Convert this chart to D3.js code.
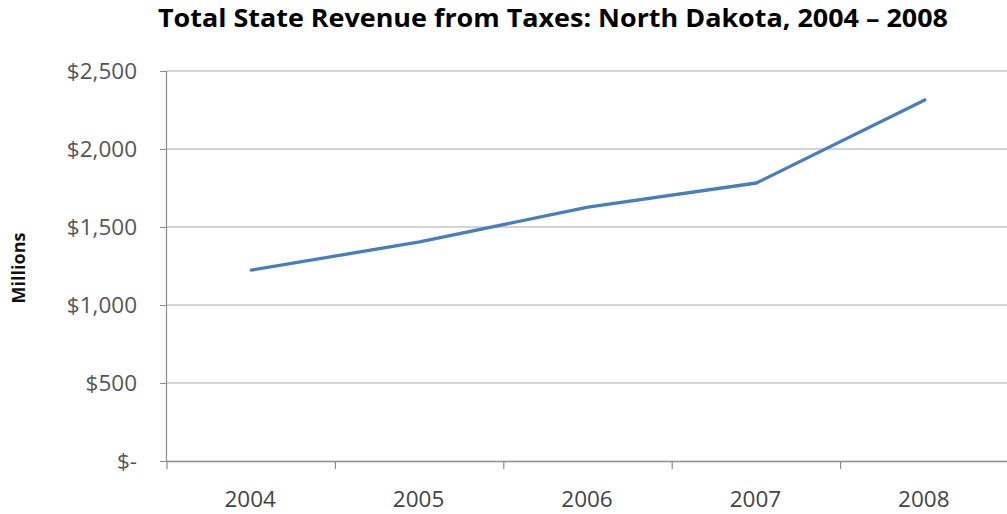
<!DOCTYPE html>
<html><head><meta charset="utf-8">
<script src="https://cdn.jsdelivr.net/npm/d3@7"></script>
<style>html,body{margin:0;padding:0;background:#fff;}svg{display:block;}</style>
</head><body>
<svg id="chart" width="1007" height="514"></svg>
<script>
const years = ["2004", "2005", "2006", "2007", "2008"];
const revenue = [1224, 1404, 1628, 1782, 2314];
const yTicks = [0, 500, 1000, 1500, 2000, 2500];
const yTickLabels = ["$-", "$500", "$1,000", "$1,500", "$2,000", "$2,500"];
const titleText = "Total State Revenue from Taxes: North Dakota, 2004 \u2013 2008";
const yTitle = "Millions";

(function () {
const svg = d3.select("#chart");
const mLeft = 166, mRight = 1008, mTop = 71, mBottom = 461;
const x = d3.scaleBand().domain(years).range([mLeft, mRight]);
const y = d3.scaleLinear().domain([0, 2500]).range([mBottom, mTop]);
const font = "'Open Sans', 'Lato', sans-serif";

// gridlines
svg.append("g").selectAll("line").data(yTicks.filter(d => d > 0)).join("line")
  .attr("x1", mLeft).attr("x2", 1007)
  .attr("y1", d => y(d)).attr("y2", d => y(d))
  .attr("stroke", "#c6c6c6").attr("stroke-width", 1.5);

// y axis
const yAxis = d3.axisLeft(y).tickValues(yTicks)
  .tickFormat((d, i) => yTickLabels[i]).tickSize(6).tickPadding(23);
const gy = svg.append("g").attr("transform", `translate(${mLeft},0)`).call(yAxis);
gy.select(".domain").attr("stroke", "#8c8c8c").attr("stroke-width", 1.2);
gy.selectAll(".tick line").attr("stroke", "#8c8c8c");
gy.selectAll(".tick text").attr("font-family", font).attr("font-size", 22.5).attr("fill", "#555");

// x axis
const xAxis = d3.axisBottom(x).tickSize(0).tickPadding(30);
const gx = svg.append("g").attr("transform", `translate(0,${mBottom})`).call(xAxis);
gx.select(".domain").attr("stroke", "#8c8c8c").attr("stroke-width", 1.5);
gx.selectAll(".tick text").attr("font-family", font).attr("font-size", 22.5).attr("fill", "#444");
// category boundary tick marks
const bounds = years.map(d => x(d)).concat([x(years[years.length-1]) + x.bandwidth()]);
svg.append("g").selectAll("line").data(bounds).join("line")
  .attr("x1", d => d + 1).attr("x2", d => d + 1)
  .attr("y1", mBottom).attr("y2", mBottom + 8)
  .attr("stroke", "#8c8c8c").attr("stroke-width", 1.2);

// line
const line = d3.line()
  .x((d, i) => x(years[i]) + x.bandwidth() / 2 + 1)
  .y(d => y(d));
svg.append("path").datum(revenue).attr("d", line)
  .attr("fill", "none").attr("stroke", "#4a7ebb").attr("stroke-width", 3.3)
  .attr("stroke-linejoin", "round").attr("stroke-linecap", "round");

// title
svg.append("text").attr("x", 158).attr("y", 27)
  .attr("textLength", 790).attr("lengthAdjust", "spacingAndGlyphs")
  .attr("font-family", font).attr("font-weight", "bold").attr("font-size", 25)
  .attr("fill", "#000").text(titleText);

// y title
svg.append("text").attr("transform", "translate(25,268) rotate(-90)")
  .attr("text-anchor", "middle").attr("font-family", font).attr("font-weight", "bold")
  .attr("font-size", 18).attr("fill", "#111").text(yTitle);
})();
</script>
</body></html>
